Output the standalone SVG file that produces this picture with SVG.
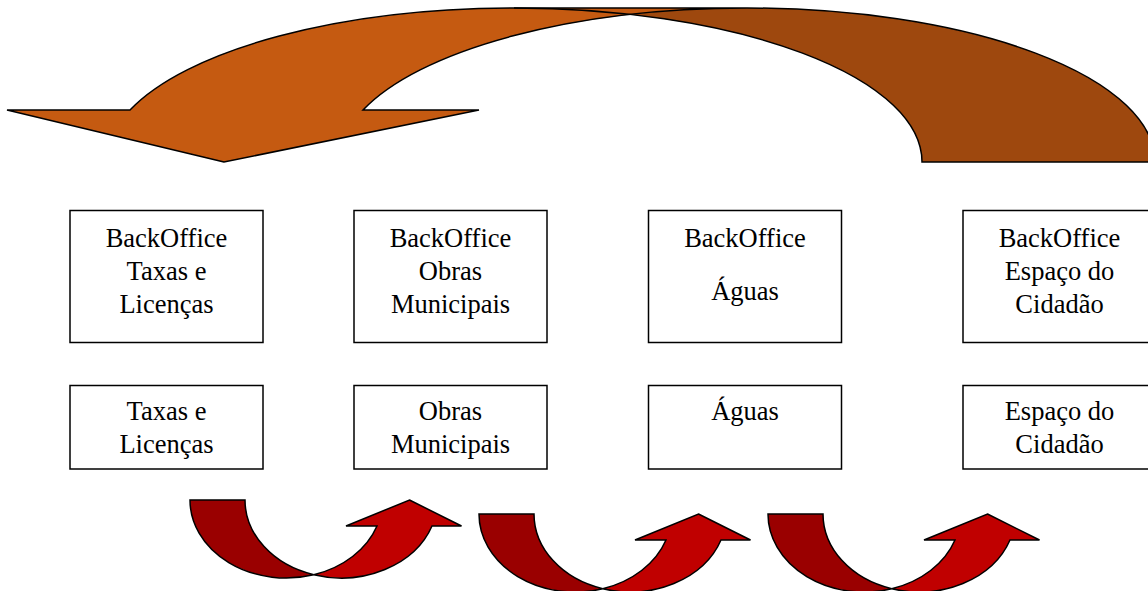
<svg xmlns="http://www.w3.org/2000/svg" width="1148" height="591" viewBox="0 0 1148 591">
  <style>
    .box { fill: #ffffff; stroke: #000000; stroke-width: 1.5; }
    .lbl { font-family: "Liberation Serif", "Times New Roman", serif; font-size: 26.5px; fill: #000000; text-anchor: middle; }
    .ol { stroke: #000000; stroke-width: 1.5; stroke-linejoin: miter; }
    .front-big { fill: #C55A11; }
    .back-big { fill: #9E480E; }
    .front-small { fill: #C00000; }
    .back-small { fill: #9A0000; }
  </style>
  <defs>
    <g id="uturn">
      <path class="front-small ol" d="M 219.5,0 L 271.5,26 L 242,26 A 96.25 78 0 0 1 123.75,74.75 A 96.25 78 0 0 0 187,26 L 156,26 Z"/>
      <path class="back-small ol" d="M 0,0 L 55,0 A 96.25 78 0 0 0 123.75,74.75 A 96.25 78 0 0 1 0,0 Z"/>
    </g>
  </defs>

  <g id="connectors">
    <g id="big-arrow">
      <path class="front-big" d="M 224,162 L 7,110 L 130,110 A 408 154 0 0 1 514,8 L 747,8 A 408 154 0 0 0 363,110 L 479,110 Z"/>
      <path class="back-big" d="M 630.5,14.4 A 408 154 0 0 1 922,162 L 1155,162 A 408 154 0 0 0 630.5,14.4 Z"/>
      <path fill="none" class="ol" d="M 224,162 L 7,110 L 130,110 A 408 154 0 0 1 514,8 L 747,8 A 408 154 0 0 0 363,110 L 479,110 Z"/>
      <path fill="none" class="ol" d="M 514,8 A 408 154 0 0 1 922,162 L 1155,162 A 408 154 0 0 0 747,8"/>
    </g>
    <use id="uturn-1" href="#uturn" transform="translate(190,500)"/>
    <use id="uturn-2" href="#uturn" transform="translate(479,514)"/>
    <use id="uturn-3" href="#uturn" transform="translate(768,514)"/>
  </g>

  <g id="bo-taxas">
    <rect class="box" x="70" y="210.5" width="193" height="132"/>
    <text class="lbl" x="166.5" y="246.5">BackOffice</text>
    <text class="lbl" x="166.5" y="279.5">Taxas e</text>
    <text class="lbl" x="166.5" y="312.5">Licenças</text>
  </g>
  <g id="bo-obras">
    <rect class="box" x="354" y="210.5" width="193" height="132"/>
    <text class="lbl" x="450.5" y="246.5">BackOffice</text>
    <text class="lbl" x="450.5" y="279.5">Obras</text>
    <text class="lbl" x="450.5" y="312.5">Municipais</text>
  </g>
  <g id="bo-aguas">
    <rect class="box" x="648.5" y="210.5" width="193" height="132"/>
    <text class="lbl" x="745" y="246.5">BackOffice</text>
    <text class="lbl" x="745" y="300">Águas</text>
  </g>
  <g id="bo-espaco">
    <rect class="box" x="963" y="210.5" width="193" height="132"/>
    <text class="lbl" x="1059.5" y="246.5">BackOffice</text>
    <text class="lbl" x="1059.5" y="279.5">Espaço do</text>
    <text class="lbl" x="1059.5" y="312.5">Cidadão</text>
  </g>

  <g id="taxas">
    <rect class="box" x="70" y="385.5" width="193" height="83.5"/>
    <text class="lbl" x="166.5" y="420">Taxas e</text>
    <text class="lbl" x="166.5" y="453">Licenças</text>
  </g>
  <g id="obras">
    <rect class="box" x="354" y="385.5" width="193" height="83.5"/>
    <text class="lbl" x="450.5" y="420">Obras</text>
    <text class="lbl" x="450.5" y="453">Municipais</text>
  </g>
  <g id="aguas">
    <rect class="box" x="648.5" y="385.5" width="193" height="83.5"/>
    <text class="lbl" x="745" y="420">Águas</text>
  </g>
  <g id="espaco">
    <rect class="box" x="963" y="385.5" width="193" height="83.5"/>
    <text class="lbl" x="1059.5" y="420">Espaço do</text>
    <text class="lbl" x="1059.5" y="453">Cidadão</text>
  </g>
</svg>
